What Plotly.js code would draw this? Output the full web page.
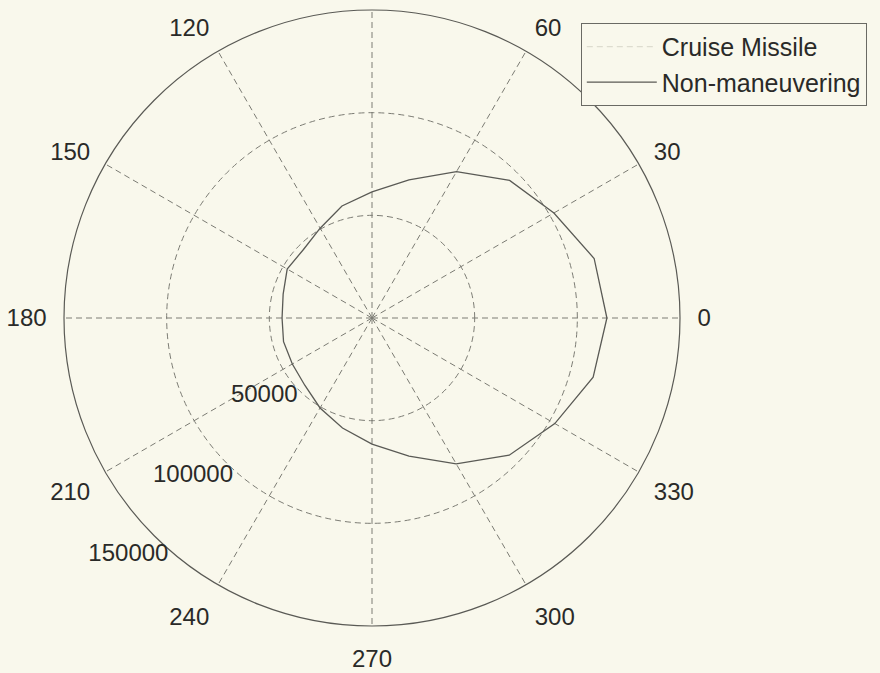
<!DOCTYPE html>
<html>
<head>
<meta charset="utf-8">
<script src="https://cdn.plot.ly/plotly-3.0.1.min.js"></script>
<style>html,body{margin:0;padding:0;background:#f9f8ec;}#chart{width:880px;height:673px;}</style>
</head>
<body>
<div id="chart"></div>
<script>
// Bearing angles (degrees) and ranges
const angles = [0, 15, 30, 45, 60, 75, 90, 105, 120, 135, 150, 165, 180,
                195, 210, 225, 240, 255, 270, 285, 300, 315, 330, 345, 360];
const nonManeuvering = [114400, 112000, 102300, 94800, 82300, 69600, 61400, 56500, 50500, 47200, 47700, 44800, 43800,
                        44600, 44800, 46300, 50600, 55500, 61400, 69600, 82000, 94500, 102800, 111500, 114400];
// Cruise Missile curve is not legible in the reference (only its legend entry is)
const cruiseAngles = [null];
const cruiseMissile = [null];
const radialTicks = [50000, 100000, 150000];
const radialTickText = ['50000', '100000', '150000'];
const angularTicks = [0, 30, 60, 90, 120, 150, 180, 210, 240, 270, 300, 330];
// the 90 label falls outside the picture in the reference
const angularTickText = ['0', '30', '60', '', '120', '150', '180', '210', '240', '270', '300', '330'];

const bg = '#f9f8ec';
const gridCol = '#7c7c74';
const lineCol = '#5a5a55';
const textCol = '#2a2a28';
const font = 'Liberation Sans, Arial, Helvetica, sans-serif';

const traces = [
  {type: 'scatterpolar', mode: 'lines', name: 'Cruise Missile',
   theta: cruiseAngles, r: cruiseMissile,
   line: {color: '#dddccf', width: 1.2, dash: '6px,4px'}},
  {type: 'scatterpolar', mode: 'lines', name: 'Non-maneuvering',
   theta: angles, r: nonManeuvering,
   line: {color: lineCol, width: 1.3}}
];

const layout = {
  width: 880, height: 673,
  margin: {l: 0, r: 0, t: 0, b: 0},
  paper_bgcolor: bg,
  font: {family: font, size: 24, color: textCol},
  showlegend: true,
  legend: {x: 0.66, y: 0.966, xanchor: 'left', yanchor: 'top',
           bgcolor: bg, bordercolor: '#6a6a64', borderwidth: 1, itemwidth: 70,
           font: {family: font, size: 25, color: textCol}},
  polar: {
    domain: {x: [64/880, 680/880], y: [47/673, 663/673]},
    bgcolor: bg,
    radialaxis: {range: [0, 150000], tickvals: radialTicks, ticktext: radialTickText,
                 angle: 231, tickangle: -129, side: 'clockwise', showline: false, ticks: '',
                 showgrid: true, gridcolor: gridCol, griddash: '6px,4px', gridwidth: 1,
                 tickfont: {family: font, size: 24, color: textCol}},
    angularaxis: {direction: 'counterclockwise', rotation: 0,
                  tickvals: angularTicks, ticktext: angularTickText,
                  showline: true, linecolor: lineCol, linewidth: 1.2,
                  ticks: 'outside', ticklen: 12, tickcolor: 'rgba(0,0,0,0)',
                  showgrid: true, gridcolor: gridCol, griddash: '6px,4px', gridwidth: 1,
                  tickfont: {family: font, size: 24, color: textCol}}
  }
};

Plotly.newPlot('chart', traces, layout, {displayModeBar: false, staticPlot: true});
</script>
</body>
</html>
